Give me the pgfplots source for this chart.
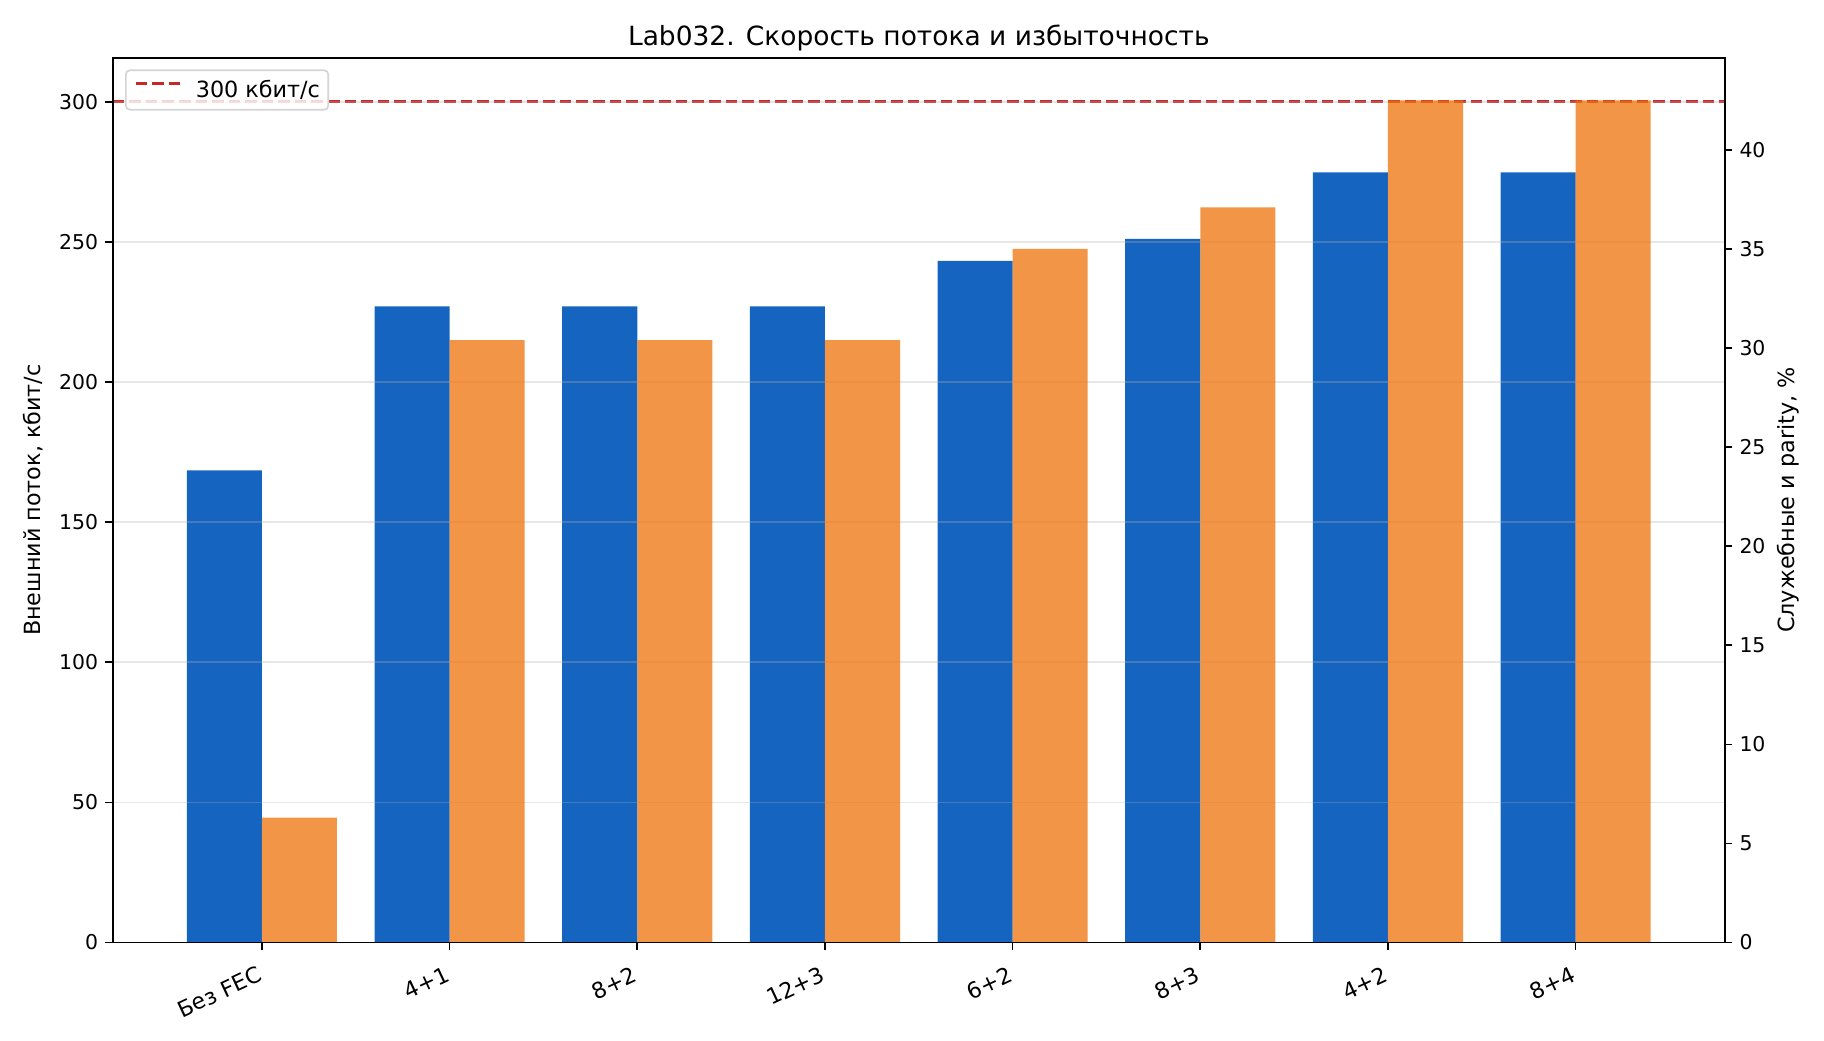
\documentclass[border=0pt]{standalone}
\usepackage{fontspec}
\setmainfont{DejaVu Sans}
\usepackage{pgfplots}
\pgfplotsset{compat=1.18}
\definecolor{barblue}{HTML}{1565C0}
\definecolor{barorange}{HTML}{EF6C00}
\definecolor{linered}{HTML}{C62828}

\pgfplotsset{
  common/.style={
    at={(0pt,0pt)}, anchor=south west,
    width=773.8pt, height=424.7pt, scale only axis,
    xmin=-0.795, xmax=7.795, ymin=0,
    tick align=outside, major tick length=3.5pt,
    tick style={black, line width=0.8pt},
    axis line style={line width=0.8pt},
    tick label style={font=\fontsize{9.8}{12}\selectfont},
    label style={font=\fontsize{10.7}{13}\selectfont},
    /pgf/number format/assume math mode=true,
  }
}

\begin{document}
\begin{tikzpicture}
\path[use as bounding box] (-54.1pt,-46.8pt) rectangle (821.4pt,452.4pt);
\begin{axis}[
  common,
  ymax=315.75,
  xtick={0,...,7},
  xticklabels={Без FEC,4+1,8+2,12+3,6+2,8+3,4+2,8+4},
  xticklabel style={rotate=25, anchor=north east, inner sep=0pt, yshift=-5.5pt, xshift=-5.4pt,
    font=\fontsize{10.6}{12}\selectfont},
  ytick={0,50,...,300},
  xtick pos=bottom, ytick pos=left,
  ymajorgrids,
  major grid style={color=black!31, opacity=0.3, line width=0.8pt},
  axis on top,
  ylabel={Внешний поток, кбит/с},
  ylabel style={at={(axis description cs:-0.0495,0.5)}, anchor=center},
  title={Lab032. Скорость потока и избыточность},
  title style={at={(axis description cs:0.5,1)}, anchor=base, font=\fontsize{12.7}{15}\selectfont},
  legend style={at={(axis description cs:0,1)}, anchor=north west, xshift=5.9pt, yshift=-5.6pt,
    draw=black!17, line width=0.8pt, fill=white, fill opacity=0.8, text opacity=1, rounded corners=2pt,
    font=\fontsize{10.7}{13}\selectfont, inner xsep=4pt, inner ysep=4.6pt,
    nodes={inner sep=0pt}, /tikz/column sep=6.5pt},
  legend image code/.code={\draw[#1] (0pt,0.33em) -- (21.6pt,0.33em);},
]
\addplot[ybar, bar width=0.4, bar shift=-0.2, fill=barblue, draw=none, forget plot]
  coordinates {(0,168.5) (1,227.0) (2,227.0) (3,227.0) (4,243.2) (5,251.1) (6,274.8) (7,274.8)};
\addplot[linered, line width=1.5pt, dash pattern=on 5.55pt off 2.4pt]
  coordinates {(-0.795,300) (7.795,300)};
\addlegendentry{300 кбит/с}
\end{axis}
\begin{axis}[
  common,
  ymax=44.65,
  xtick=\empty,
  ytick={0,5,...,40},
  ytick pos=right,
  axis on top,
  ylabel={Служебные и parity, \%},
  ylabel style={at={(axis description cs:1.0392,0.5)}, anchor=center},
]
\addplot[ybar, bar width=0.4, bar shift=0.2, fill=barorange, fill opacity=0.72, draw=none]
  coordinates {(0,6.3) (1,30.4) (2,30.4) (3,30.4) (4,35.0) (5,37.1) (6,42.5) (7,42.5)};
\end{axis}
\end{tikzpicture}
\end{document}
